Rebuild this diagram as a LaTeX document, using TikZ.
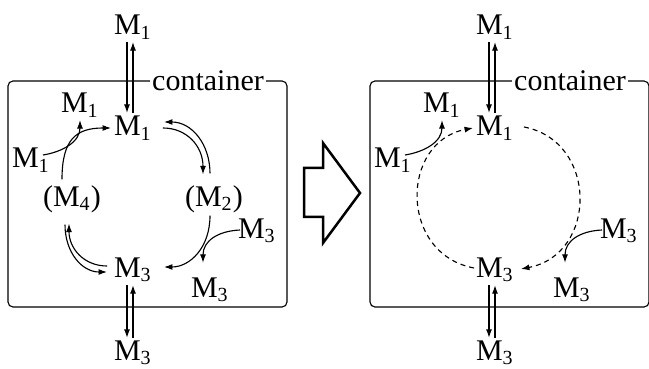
\documentclass[tikz,border=0pt]{standalone}
\usepackage{fontspec}
\setmainfont{Liberation Serif}
\usetikzlibrary{arrows.meta}

\begin{document}
\begin{tikzpicture}[x=4pt,y=4pt,font=\rmfamily\fontsize{12pt}{14pt}\selectfont,>={Latex[length=3.4pt,width=2.4pt]},spc/.style={inner sep=1pt},arrow/.style={->, line width=0.45pt},loop/.style={->, line width=0.45pt, dash pattern=on 2pt off 1.6pt},frame/.style={line width=0.45pt, rounded corners=2pt}]
\useasboundingbox (0,0) rectangle (64.9,36.8);
% parts shared by both panels
\foreach \dx/\p in {0/L,36.2/R}{
\draw[frame] (0.8+\dx,6.1) rectangle (28.7+\dx,28.7);
\node[spc, fill=white] (cont\p) at (20.8+\dx,28.7) {container};
\node[spc] (m1top\p) at (13.3+\dx,34.1) {M\textsubscript{1}};
\node[spc] (m1in\p) at (13.3+\dx,24.0) {M\textsubscript{1}};
\node[spc] (m1ul\p) at (8.0+\dx,26.3) {M\textsubscript{1}};
\node[spc] (m1l\p) at (3.1+\dx,20.8) {M\textsubscript{1}};
\node[spc] (m3r\p) at (25.7+\dx,13.7) {M\textsubscript{3}};
\node[spc] (m3in\p) at (13.3+\dx,9.8) {M\textsubscript{3}};
\node[spc] (m3br\p) at (21.0+\dx,7.8) {M\textsubscript{3}};
\node[spc] (m3bot\p) at (13.3+\dx,1.5) {M\textsubscript{3}};
\draw[arrow] ([xshift=-2.4pt]m1top\p.south) -- ([xshift=-2.4pt]m1in\p.north);\draw[arrow] (m1in\p.north) -- (m1top\p.south);
\draw[arrow] ([xshift=-2.4pt]m3in\p.south) -- ([xshift=-2.4pt]m3bot\p.north);\draw[arrow] (m3bot\p.north) -- (m3in\p.south);
\draw[arrow] ([shift={(1.2,0.5)}]m1l\p.center) .. controls +(1.9,0.3) and +(0,-2.2) .. (m1ul\p.south);
\draw[arrow] ([shift={(-1.7,0.1)}]m3r\p.center) .. controls +(-2.2,-0.1) and +(0,2.2) .. ([shift={(-0.7,1.2)}]m3br\p.north);
}
% left panel: cycle through M2 and M4
\node[spc] (m4L) at (7.2,16.9) {(M\textsubscript{4})};
\node[spc] (m2L) at (21.4,16.9) {(M\textsubscript{2})};
\draw[arrow] ([shift={(-1.0,0.3)}]m4L.north) .. controls +(0,4) and +(-3.5,0) .. (m1inL.west);
\draw[arrow] ([shift={(-0.4,0.9)}]m2L.north) .. controls +(0,2.9) and +(2.8,0) .. ([shift={(0.9,0.6)}]m1inL.east);
\draw[arrow] ([shift={(0.8,0)}]m1inL.east) .. controls +(2.4,0) and +(0,2.8) .. ([shift={(-1.1,0.8)}]m2L.north);
\draw[arrow] ([shift={(-0.4,0)}]m2L.south) .. controls +(0,-3.2) and +(2.6,0) .. ([shift={(0.9,0.3)}]m3inL.east);
\draw[arrow] ([shift={(-0.7,-0.9)}]m4L.south) .. controls +(0,-2.8) and +(-2.5,0) .. ([shift={(-0.4,-0.2)}]m3inL.west);
\draw[arrow] ([shift={(-0.4,0.4)}]m3inL.west) .. controls +(-2.3,0) and +(0,-2.5) .. ([shift={(-0.3,-0.8)}]m4L.south);
% hollow arrow between the panels
\draw[line width=1pt] (30.4,20.0) -- (32.3,20.0) -- (32.3,22.5) -- (36.0,17.5) -- (32.3,12.5) -- (32.3,15.1) -- (30.4,15.1) -- cycle;
% right panel: dashed loop
\draw[loop] ([shift={(0.1,0.2)}]m3inR.west) .. controls +(-7.5,1.4) and +(-7.3,-1.4) .. (m1inR.west);
\draw[loop] ([shift={(0.7,0.1)}]m1inR.east) .. controls +(7.4,-1.4) and +(7.7,1.5) .. ([shift={(0.4,0.1)}]m3inR.east);
\end{tikzpicture}
\end{document}
